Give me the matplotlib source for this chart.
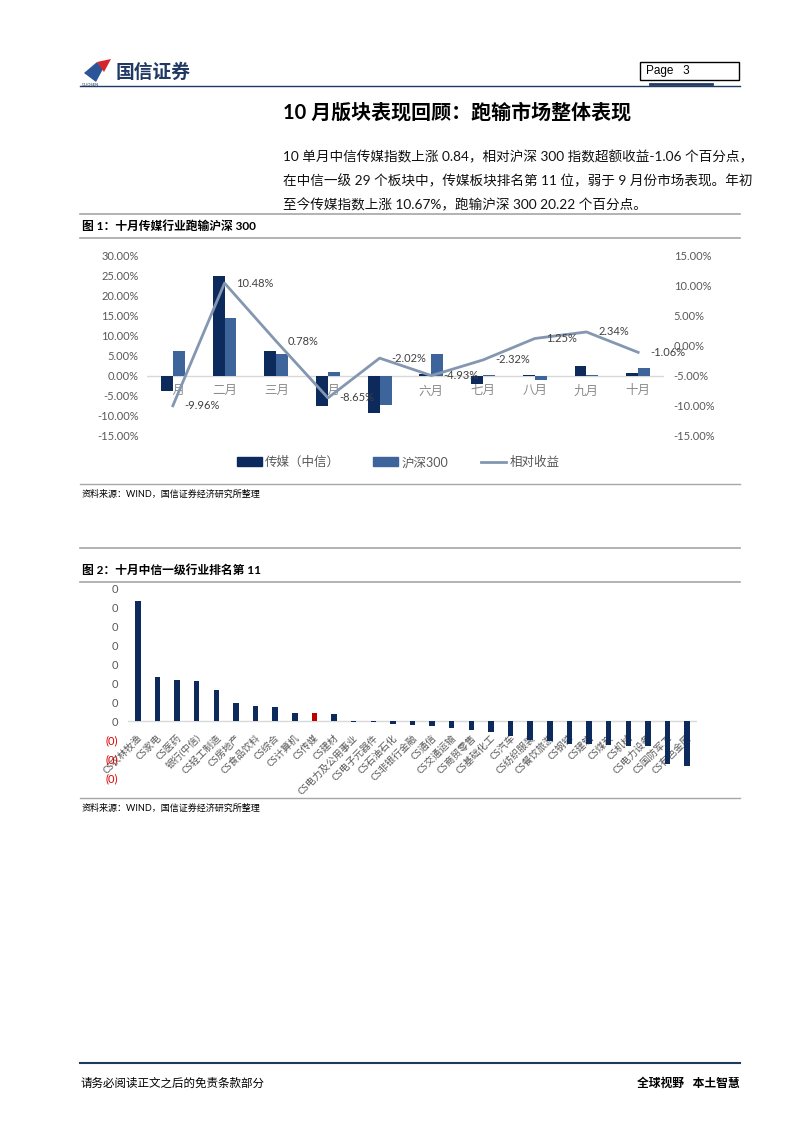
import numpy as np
import matplotlib
matplotlib.use('Agg')
import matplotlib.pyplot as plt
from matplotlib.patches import Rectangle, Polygon, Patch
from matplotlib.lines import Line2D
from matplotlib.ticker import FuncFormatter

plt.rcParams['font.family'] = ['Lato', 'Noto Sans CJK SC', 'DejaVu Sans']

# ---- data: chart 1 (monthly returns, %)
months = ['一月', '二月', '三月', '四月', '五月', '六月', '七月', '八月', '九月', '十月']
media = [-3.71, 25.08, 6.20, -7.55, -9.30, 0.45, -2.10, 0.25, 2.60, 0.84]
hs300 = [6.25, 14.60, 5.42, 1.10, -7.28, 5.38, 0.22, -1.00, 0.26, 1.90]
relative = [-9.96, 10.48, 0.78, -8.65, -2.02, -4.93, -2.32, 1.25, 2.34, -1.06]

# ---- data: chart 2 (October CITIC level-1 industry returns, %)
industries = ['CS农林牧渔', 'CS家电', 'CS医药', '银行(中信)', 'CS轻工制造', 'CS房地产',
              'CS食品饮料', 'CS综合', 'CS计算机', 'CS传媒', 'CS建材', 'CS电力及公用事业',
              'CS电子元器件', 'CS石油石化', 'CS非银行金融', 'CS通信', 'CS交通运输',
              'CS商贸零售', 'CS基础化工', 'CS汽车', 'CS纺织服装', 'CS餐饮旅游', 'CS钢铁',
              'CS建筑', 'CS煤炭', 'CS机械', 'CS电力设备', 'CS国防军工', 'CS有色金属']
ind_ret = [12.73, 4.66, 4.41, 4.23, 3.28, 1.98, 1.66, 1.48, 0.88, 0.84, 0.78, -0.04,
           -0.10, -0.25, -0.37, -0.46, -0.70, -0.88, -1.13, -1.52, -1.96, -2.04, -2.40,
           -2.42, -2.48, -2.58, -2.60, -4.47, -4.68]
highlight = 'CS传媒'

W, H = 802, 1133
dark = '#0d2a5c'
blue = '#3e649c'
line_c = '#8497b0'
grey_txt = '#595959'

fig = plt.figure(figsize=(W / 100, H / 100), dpi=100)


def rect(l, t, r, b):
    return [l / W, 1 - b / H, (r - l) / W, (b - t) / H]


def ftext(x, y, s, **kw):
    fig.text(x / W, 1 - y / H, s, **kw)


def hline(x0, x1, y, **kw):
    fig.add_artist(Line2D([x0 / W, x1 / W], [1 - y / H, 1 - y / H],
                          transform=fig.transFigure, **kw))


def poly(pts, **kw):
    fig.add_artist(Polygon([(x / W, 1 - y / H) for x, y in pts], closed=True,
                           transform=fig.transFigure, **kw))


# ---- page header
poly([(84, 73), (97, 62), (103, 69), (96, 82)], color='#2b5597', lw=0)
poly([(97, 62), (111, 59), (104, 72)], color='#d7262b', lw=0)
ftext(116, 72, '国信证券', fontsize=13.5, fontweight='bold', color='#1f3864',
      va='center', family=['Noto Sans CJK SC'])
ftext(82, 85, 'GUOSEN', fontsize=3, color='#1f3864', va='center')
fig.add_artist(Rectangle((640 / W, 1 - 80 / H), 99 / W, 18 / H, transform=fig.transFigure,
                         fill=False, ec='black', lw=1))
ftext(646, 71, 'Page   3', fontsize=8.5, va='center', family=['Liberation Sans'])
hline(80, 740, 86, color='#1f3864', lw=1)
hline(650, 712, 84, color='#1f3864', lw=2)

# ---- title and paragraph
ftext(283, 113, '10 月版块表现回顾：跑输市场整体表现', fontsize=14.4, fontweight='bold',
      va='center')
para = ['10 单月中信传媒指数上涨 0.84，相对沪深 300 指数超额收益-1.06 个百分点，',
        '在中信一级 29 个板块中，传媒板块排名第 11 位，弱于 9 月份市场表现。年初',
        '至今传媒指数上涨 10.67%，跑输沪深 300 20.22 个百分点。']
for k, s in enumerate(para):
    ftext(283, 157 + k * 24, s, fontsize=9.8, va='center', color='#111111')

# ---- figure 1 caption
hline(80, 740, 214, color='#a6a6a6', lw=1.2)
ftext(82, 226, '图 1：十月传媒行业跑输沪深 300', fontsize=8.5, fontweight='bold', va='center')
hline(80, 740, 238, color='#a6a6a6', lw=1.2)

# ---- chart 1
x = np.arange(len(months))
ax1 = fig.add_axes(rect(147, 256, 664, 436))
ax1.bar(x - 0.115, media, 0.23, color=dark, zorder=1)
ax1.bar(x + 0.115, hs300, 0.23, color=blue, zorder=1)
ax1.axhline(0, color='#d9d9d9', lw=1, zorder=0.8)
ax1.set_xlim(-0.5, len(months) - 0.5)
ax1.set_ylim(-15, 30)
ax1.set_yticks(np.arange(-15, 31, 5))
ax1.yaxis.set_major_formatter(FuncFormatter(lambda v, p: '%.2f%%' % v))
ax1.set_xticks([])
ax1.tick_params(axis='y', length=0, pad=6, labelsize=8, labelcolor=grey_txt)
for m_i, m in enumerate(months):
    ax1.text(m_i, -3.6, m, ha='center', va='center', fontsize=9, color='#8c8c8c', zorder=0.5)
for sp in ax1.spines.values():
    sp.set_visible(False)

ax2 = ax1.twinx()
ax2.plot(x, relative, color=line_c, lw=2)
ax2.set_ylim(-15, 15)
ax2.set_yticks(np.arange(-15, 16, 5))
ax2.yaxis.set_major_formatter(FuncFormatter(lambda v, p: '%.2f%%' % v))
ax2.tick_params(axis='y', length=0, pad=7, labelsize=8, labelcolor=grey_txt)
for sp in ax2.spines.values():
    sp.set_visible(False)
for xi, v in zip(x, relative):
    ax2.annotate('%.2f%%' % v, (xi, v), xytext=(8.5, 0), textcoords='offset points',
                 ha='left', va='center', fontsize=8, color='#404040')

handles = [Patch(color=dark), Patch(color=blue), Line2D([], [], color=line_c, lw=2)]
fig.legend(handles, ['传媒（中信）', '沪深300', '相对收益'], loc='center',
           bbox_to_anchor=(398 / W, 1 - 462 / H), ncol=3, frameon=False, fontsize=9,
           handlelength=2.0, handleheight=0.7, handletextpad=0.3, columnspacing=2.6,
           labelcolor=grey_txt)

hline(80, 740, 484, color='#a6a6a6', lw=1)
ftext(82, 494, '资料来源：WIND，国信证券经济研究所整理', fontsize=6.5, va='center')

# ---- figure 2 caption
hline(80, 740, 548, color='#a6a6a6', lw=1.2)
ftext(82, 570, '图 2：十月中信一级行业排名第 11', fontsize=8.5, fontweight='bold', va='center')
hline(80, 740, 582, color='#a6a6a6', lw=1.2)

# ---- chart 2
xi2 = np.arange(len(industries))
ax3 = fig.add_axes(rect(128, 589, 697, 778))
cols = ['#c00000' if n == highlight else dark for n in industries]
ax3.bar(xi2, ind_ret, 0.28, color=cols, zorder=1)
ax3.axhline(0, color='#d9d9d9', lw=1, zorder=0.8)
ax3.set_xlim(-0.5, len(industries) - 0.5)
ax3.set_ylim(-6, 14)
ticks = np.arange(-6, 15, 2)
ax3.set_yticks(ticks)
ax3.set_yticklabels(['(0)' if t < 0 else '0' for t in ticks])
ax3.set_xticks([])
ax3.tick_params(axis='y', length=0, pad=7, labelsize=8)
for t, lab in zip(ticks, ax3.get_yticklabels()):
    lab.set_color('#e00000' if t < 0 else grey_txt)
for sp in ax3.spines.values():
    sp.set_visible(False)
for k, n in enumerate(industries):
    ax3.text(k + 0.15, -1.6, n, rotation=45, rotation_mode='anchor', ha='right',
             va='center', fontsize=7, color=grey_txt, zorder=0.5)

hline(80, 740, 798, color='#a6a6a6', lw=1)
ftext(82, 808, '资料来源：WIND，国信证券经济研究所整理', fontsize=6.5, va='center')

# ---- footer
hline(80, 740, 1063, color='#1f3864', lw=1.5)
ftext(80, 1083, '请务必阅读正文之后的免责条款部分', fontsize=8.3, va='center')
ftext(740, 1083, '全球视野   本土智慧', fontsize=8.5, fontweight='bold', ha='right',
      va='center')

fig.savefig('out.png', dpi=100)
